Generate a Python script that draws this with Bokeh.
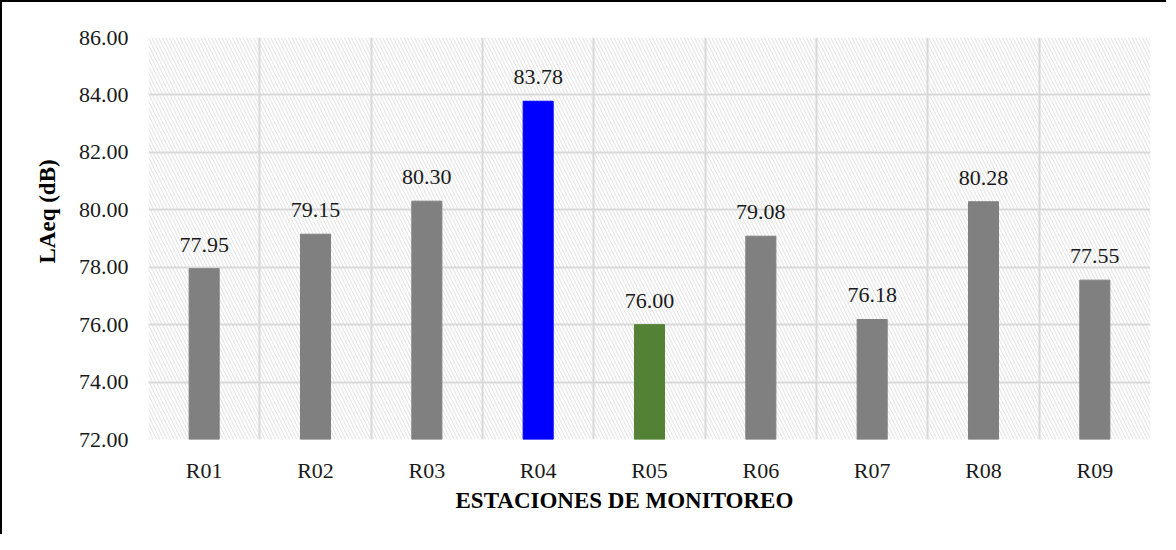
from bokeh.plotting import figure
from bokeh.models import ColumnDataSource, FixedTicker, BoxAnnotation, NumeralTickFormatter, Range1d, Title
from bokeh.core.properties import value
from bokeh.embed import file_html
from bokeh.resources import INLINE

stations = ["R01", "R02", "R03", "R04", "R05", "R06", "R07", "R08", "R09"]
values = [77.95, 79.15, 80.30, 83.78, 76.00, 79.08, 76.18, 80.28, 77.55]
colors = ["#808080", "#808080", "#808080", "#0000FF", "#548235", "#808080", "#808080", "#808080", "#808080"]
y_ticks = [72, 74, 76, 78, 80, 82, 84, 86]
x_title = "ESTACIONES DE MONITOREO"
y_title = "LAeq (dB)"

FONT = "Liberation Serif"
TXT = "#1a1a1a"

xs = [i + 0.5 for i in range(len(stations))]
src = ColumnDataSource(dict(x=xs, top=values, color=colors,
                            label=["%.2f" % v for v in values]))

p = figure(width=1166, height=534, output_backend="svg", toolbar_location=None,
           x_range=Range1d(0, len(stations)), y_range=Range1d(y_ticks[0], y_ticks[-1]),
           min_border_left=146, min_border_top=35, min_border_right=18, min_border_bottom=97)
p.styles = {"border-left": "2px solid black", "border-top": "2px solid black"}
p.outline_line_color = None
p.background_fill_color = "white"
p.border_fill_color = "white"

# hatched plot area
p.add_layout(BoxAnnotation(fill_alpha=0, line_alpha=0, hatch_pattern="\\",
                           hatch_color="#e0e0e0", hatch_scale=7, hatch_weight=1, level="image"))

p.vbar(x="x", top="top", bottom=y_ticks[0], width=0.27, color="color", source=src)
p.text(x="x", y="top", text="label", source=src, text_align="center", text_baseline="alphabetic",
       y_offset=-24, text_font_size="22px", text_font=value(FONT), text_color=TXT)

p.xaxis.ticker = FixedTicker(ticks=xs)
p.xaxis.major_label_overrides = {x: s for x, s in zip(xs, stations)}
p.yaxis.ticker = FixedTicker(ticks=y_ticks)
p.yaxis.formatter = NumeralTickFormatter(format="0.00")

for ax in (p.xaxis[0], p.yaxis[0]):
    ax.axis_line_color = None
    ax.major_tick_line_color = None
    ax.minor_tick_line_color = None
    ax.major_label_text_font = FONT
    ax.major_label_text_font_size = "22px"
    ax.major_label_text_color = TXT

p.xaxis.major_label_standoff = 12
p.yaxis.major_label_standoff = 14

# axis titles (placed like the original, slightly off-centre)
p.add_layout(Title(text=x_title, align="left", offset=307, standoff=0,
                   text_font=FONT, text_font_size="23px", text_font_style="bold",
                   text_color="black"), "below")
p.add_layout(Title(text=y_title, align="left", offset=176, standoff=31,
                   text_font=FONT, text_font_size="23px", text_font_style="bold",
                   text_color="black"), "left")

p.xgrid.ticker = FixedTicker(ticks=list(range(len(stations) + 1)))
p.ygrid.ticker = FixedTicker(ticks=y_ticks)
for g in (p.xgrid[0], p.ygrid[0]):
    g.grid_line_color = "#d9d9d9"
    g.grid_line_width = 2

open("out.html", "w").write(file_html(p, INLINE))
